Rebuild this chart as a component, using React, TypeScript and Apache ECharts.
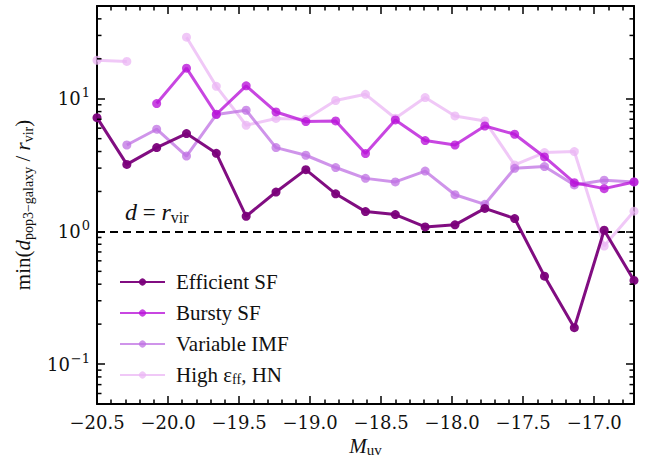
import React, { useEffect, useRef } from "react";
import * as echarts from "echarts";

const magnitudes = [-20.5, -20.29, -20.08, -19.87, -19.66, -19.45, -19.24, -19.03, -18.82, -18.61, -18.4, -18.19, -17.98, -17.77, -17.56, -17.35, -17.14, -16.93, -16.72];

const efficientSF = [7.2, 3.2, 4.28, 5.46, 3.88, 1.3, 1.98, 2.92, 1.92, 1.41, 1.34, 1.08, 1.12, 1.49, 1.25, 0.46, 0.188, 1.02, 0.427];
const burstySF = [null, null, 9.2, 17.0, 7.64, 12.5, 7.95, 6.73, 6.8, 3.86, 6.92, 4.84, 4.48, 6.23, 5.4, 3.64, 2.33, 2.1, 2.36];
const variableIMF = [null, 4.48, 5.89, 3.7, 7.6, 8.19, 4.28, 3.75, 3.03, 2.51, 2.36, 2.85, 1.89, 1.6, 2.99, 3.08, 2.24, 2.43, 2.36];
const highEff = [19.5, 19.1, null, 29.1, 12.4, 6.31, 7.1, 7.0, 9.7, 10.8, 7.13, 10.2, 7.42, 6.8, 3.17, 3.93, 4.0, 0.775, 1.42];

const seriesNames = ["Efficient SF", "Bursty SF", "Variable IMF", "High εff, HN"];
const seriesColors = ["#7a007a", "#b812d8", "#bf70e3", "#ebb5f4"];
const seriesOpacity = [0.95, 0.78, 0.75, 0.75];

const yMinorTicks = [0.06, 0.07, 0.08, 0.09, 0.2, 0.3, 0.4, 0.5, 0.6, 0.7, 0.8, 0.9, 2, 3, 4, 5, 6, 7, 8, 9, 20, 30, 40];
const referenceLine = 1;

const X_MIN = -20.5;
const X_MAX = -16.72;
const Y_MIN = 0.05;
const Y_MAX = 50;

const SERIF = "'Liberation Serif', serif";
const TICKFONT = "'DejaVu Serif', serif";

export default function App() {
  const ref = useRef<HTMLDivElement>(null);

  useEffect(() => {
    if (!ref.current) return;
    const chart = echarts.init(ref.current, undefined, { renderer: "svg" });

    const dataSets = [efficientSF, burstySF, variableIMF, highEff];
    const lineSeries = dataSets.map((vals, i) => ({
      name: seriesNames[i],
      type: "line",
      data: magnitudes.map((x, j) => [x, vals[j]]),
      connectNulls: false,
      symbol: "circle",
      symbolSize: 9,
      showAllSymbol: true,
      z: 10 - i,
      lineStyle: { color: seriesColors[i], width: 3, opacity: seriesOpacity[i] },
      itemStyle: { color: seriesColors[i], opacity: seriesOpacity[i] },
      emphasis: { disabled: true },
      ...(i === 0
        ? {
            markLine: {
              silent: true,
              symbol: ["none", "none"],
              label: { show: false },
              lineStyle: { color: "#000", width: 2, type: [8, 5] },
              data: [{ yAxis: referenceLine }],
            },
          }
        : {}),
    }));

    const minorSeries = {
      type: "custom",
      name: "minor",
      silent: true,
      clip: false,
      z: 20,
      data: yMinorTicks.map((v) => [X_MIN, v]),
      encode: { x: 0, y: 1 },
      renderItem: (params: any, api: any) => {
        const pt = api.coord([api.value(0), api.value(1)]);
        const cs = params.coordSys;
        const style = { stroke: "#000", lineWidth: 1.5 };
        return {
          type: "group",
          children: [
            { type: "line", shape: { x1: cs.x, y1: pt[1], x2: cs.x + 4.5, y2: pt[1] }, style },
            { type: "line", shape: { x1: cs.x + cs.width - 4.5, y1: pt[1], x2: cs.x + cs.width, y2: pt[1] }, style },
          ],
        };
      },
    };

    const xLabelFmt = (v: number) => {
      const r = Math.round(v * 2) / 2;
      if (Math.abs(v - r) > 1e-6) return "";
      return r.toFixed(1).replace("-", "−");
    };
    const yLabelFmt = (v: number) => {
      const e = Math.log10(v);
      const r = Math.round(e);
      if (Math.abs(e - r) > 1e-6) return "";
      return `10{sup|${String(r).replace("-", "−")}}`;
    };

    const xCommon = {
      type: "value",
      min: X_MIN,
      max: X_MAX,
      interval: 0.5,
      splitLine: { show: false },
      axisLine: { show: true, onZero: false, lineStyle: { color: "#000", width: 2 } },
      axisTick: { show: true, inside: true, length: 8, lineStyle: { color: "#000", width: 1.5 } },
      minorTick: { show: true, splitNumber: 5, length: 4.5, lineStyle: { color: "#000", width: 1.5 } },
    };
    const yCommon = {
      type: "log",
      logBase: 10,
      min: Y_MIN,
      max: Y_MAX,
      splitLine: { show: false },
      axisLine: { show: true, onZero: false, lineStyle: { color: "#000", width: 2 } },
      axisTick: { show: true, inside: true, length: 8, lineStyle: { color: "#000", width: 1.5 } },
    };

    const option: any = {
      animation: false,
      backgroundColor: "#fff",
      grid: { left: 97, right: 22, top: 6, bottom: 53, containLabel: false, outerBoundsMode: "none" },
      legend: {
        data: seriesNames,
        orient: "vertical",
        left: 114,
        top: 265,
        itemWidth: 45,
        itemHeight: 9,
        itemGap: 7,
        selectedMode: false,
        formatter: (name: string) => (name === "High εff, HN" ? "High ε{sub|ff}, HN" : name),
        textStyle: {
          fontFamily: SERIF,
          fontSize: 21,
          color: "#111",
          lineHeight: 24,
          padding: [0, 0, 0, 6],
          rich: {
            sub: { fontFamily: SERIF, fontSize: 14, padding: [9, 0, 0, 0] },
          },
        },
      },
      xAxis: [
        {
          ...xCommon,
          position: "bottom",
          name: "{i|M}{sub|uv}",
          nameLocation: "middle",
          nameGap: 25,
          nameTextStyle: {
            fontFamily: SERIF,
            fontSize: 21,
            color: "#111",
            rich: {
              i: { fontFamily: SERIF, fontStyle: "italic", fontSize: 21 },
              sub: { fontFamily: SERIF, fontSize: 15, padding: [7, 0, 0, 0] },
            },
          },
          axisLabel: { formatter: xLabelFmt, fontFamily: TICKFONT, fontSize: 18, color: "#111", margin: 9 },
        },
        { ...xCommon, position: "top", axisLabel: { show: false } },
      ],
      yAxis: [
        {
          ...yCommon,
          position: "left",
          name: "min({i|d}{sub|pop3−galaxy}{n| / }{i|r}{sub|vir})",
          nameLocation: "middle",
          nameGap: 62,
          nameTextStyle: {
            fontFamily: SERIF,
            fontSize: 21,
            color: "#111",
            rich: {
              i: { fontFamily: SERIF, fontStyle: "italic", fontSize: 21 },
              n: { fontFamily: SERIF, fontSize: 21 },
              sub: { fontFamily: SERIF, fontSize: 14, padding: [10, 0, 0, 0] },
            },
          },
          axisLabel: {
            formatter: yLabelFmt,
            fontFamily: TICKFONT,
            fontSize: 18,
            color: "#111",
            margin: 7,
            rich: { sup: { fontFamily: TICKFONT, fontSize: 13, padding: [0, 0, 12, 1] } },
          },
        },
        { ...yCommon, position: "right", axisLabel: { show: false } },
      ],
      graphic: [
        {
          type: "text",
          left: 125,
          top: 200,
          z: 50,
          style: {
            text: "{i|d}{n| = }{i|r}{sub|vir}",
            fill: "#111",
            font: `22px ${SERIF}`,
            rich: {
              i: { fontFamily: SERIF, fontStyle: "italic", fontSize: 24 },
              n: { fontFamily: SERIF, fontSize: 23 },
              sub: { fontFamily: SERIF, fontSize: 16, padding: [10, 0, 0, 0] },
            },
          },
        },
      ],
      series: [...lineSeries.slice().reverse(), minorSeries],
    };

    chart.setOption(option);
    return () => chart.dispose();
  }, []);

  return <div ref={ref} style={{ position: "fixed", left: 0, top: 0, width: 656, height: 457 }} />;
}
